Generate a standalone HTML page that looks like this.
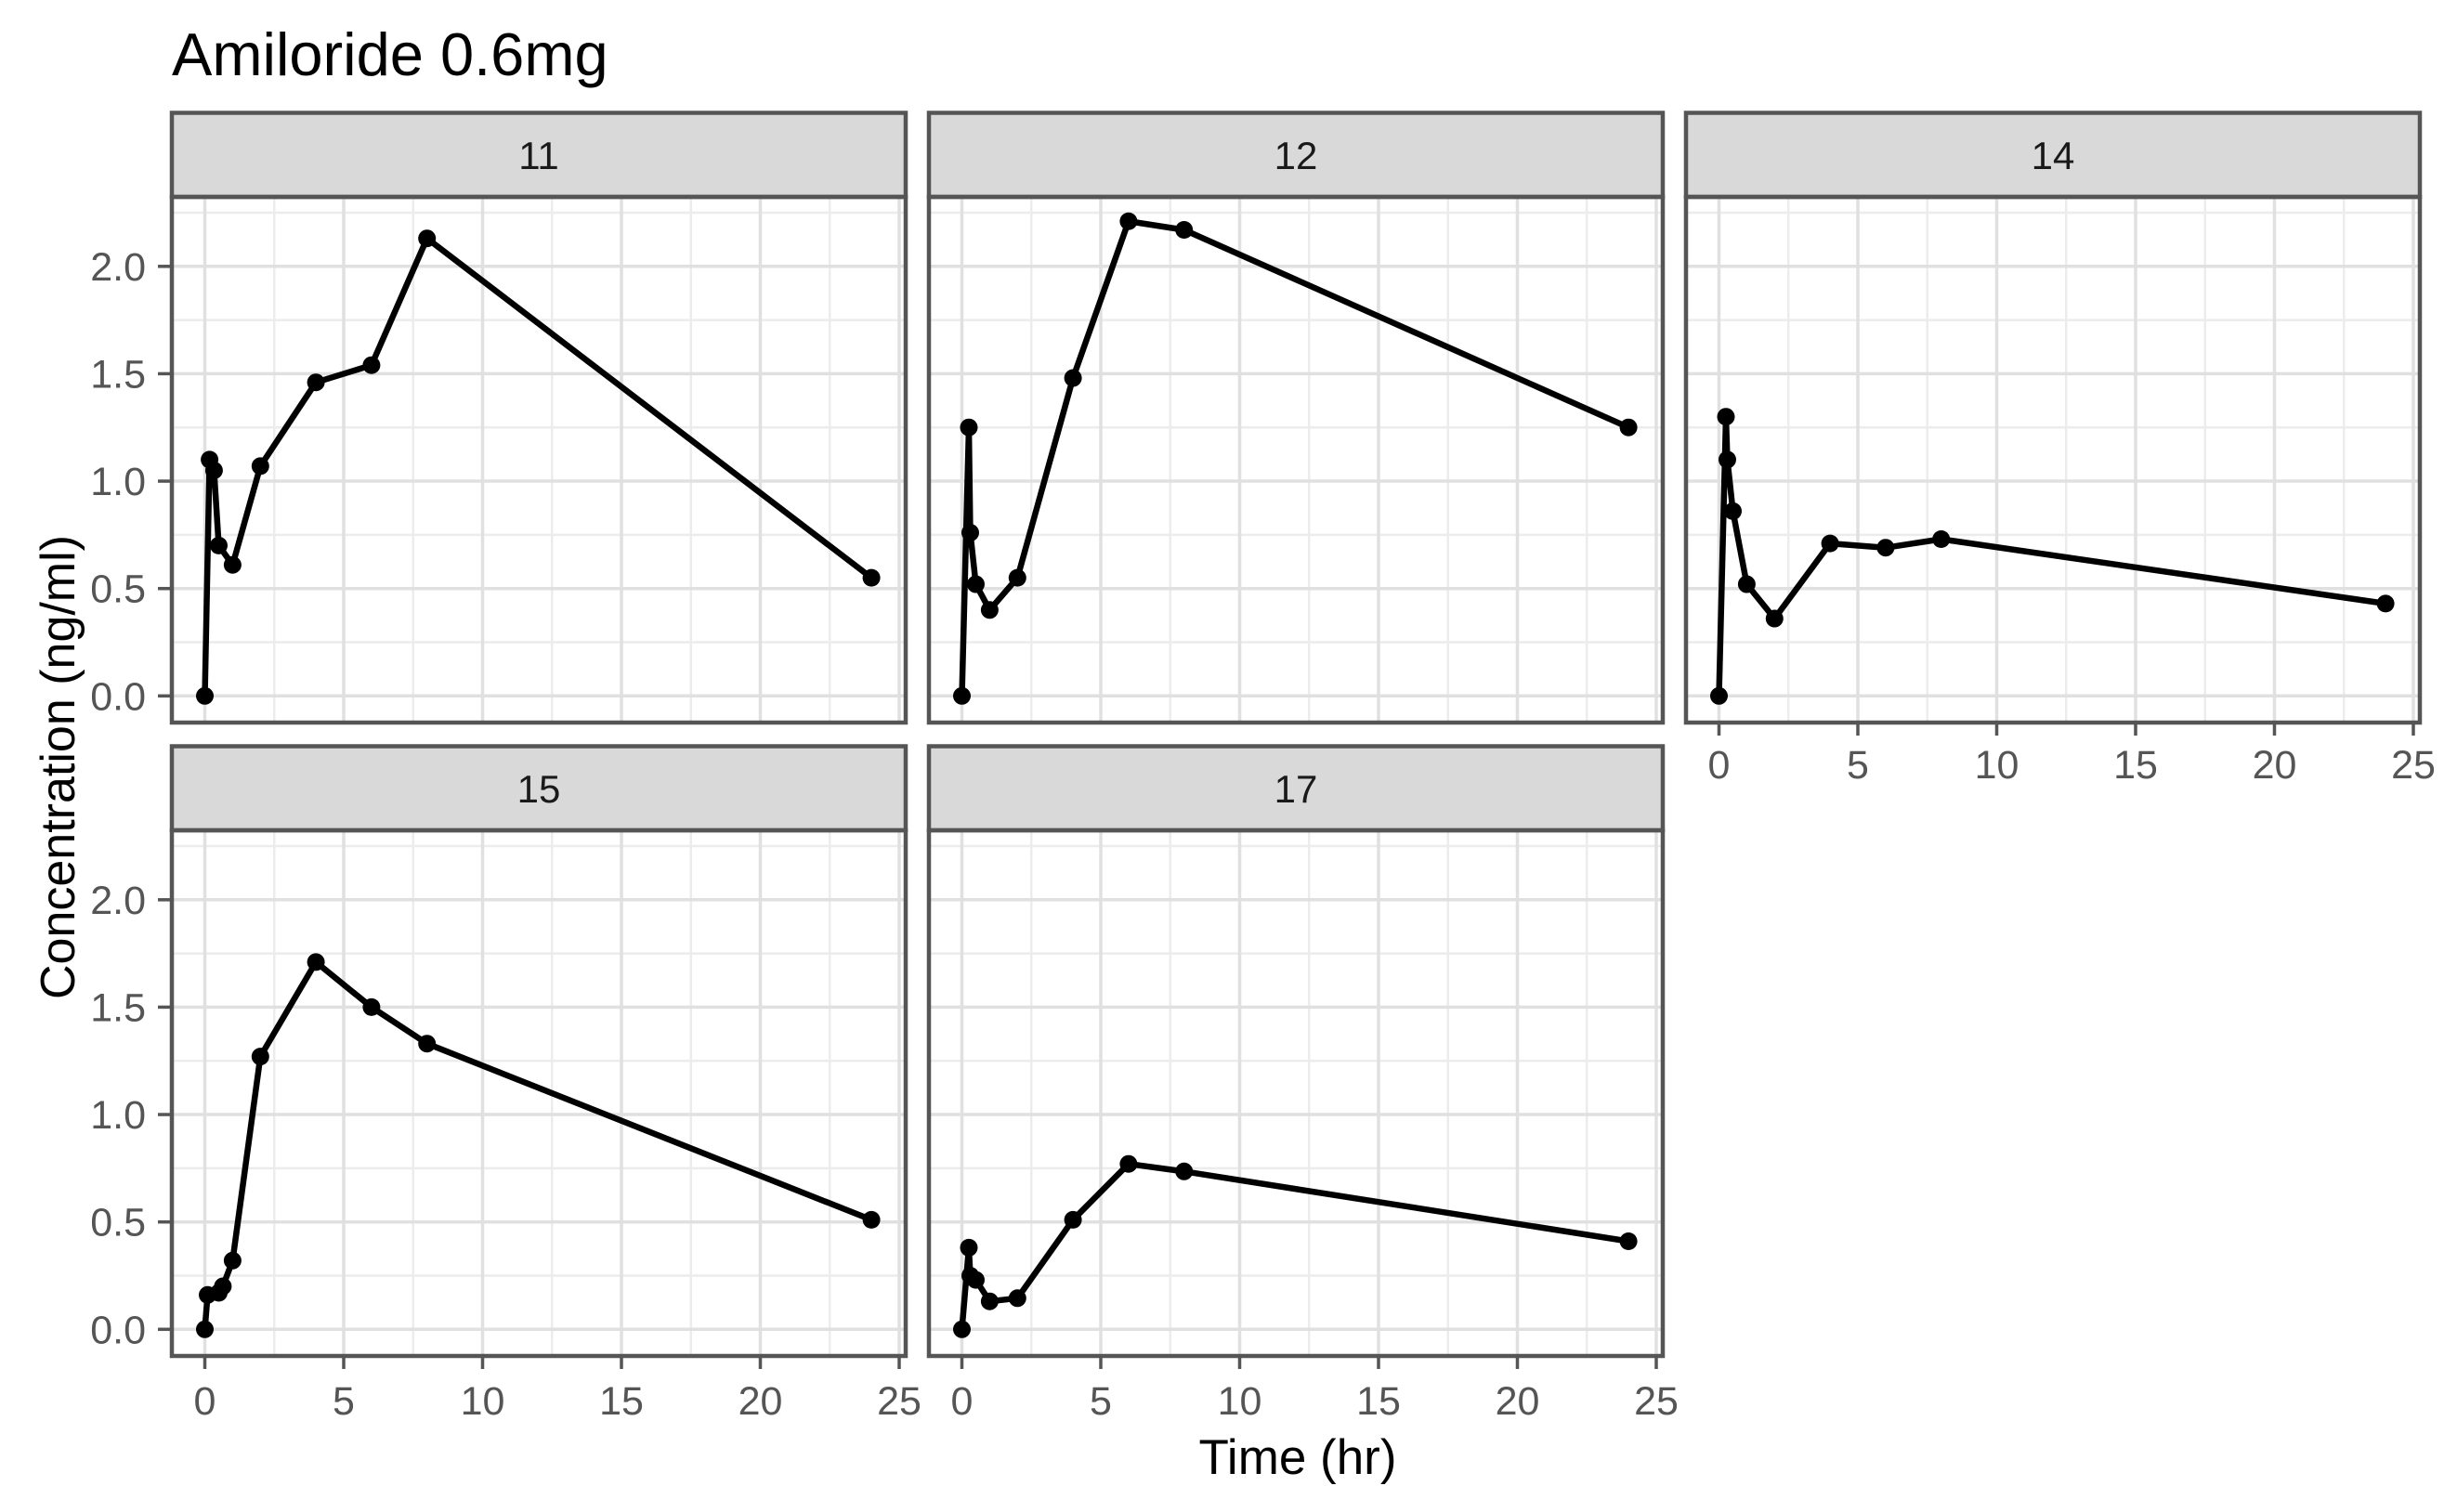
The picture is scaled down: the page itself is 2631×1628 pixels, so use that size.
<!DOCTYPE html>
<html><head><meta charset="utf-8"><style>
html,body{margin:0;padding:0;background:#fff;}
svg{display:block;}
text{font-family:"Liberation Sans",Arial,sans-serif;}
</style></head><body>
<svg width="2631" height="1628" viewBox="0 0 2631 1628" xmlns="http://www.w3.org/2000/svg">
<defs>
<g id="grid">
<rect x="0" y="0" width="790" height="566" fill="#ffffff"/>
<g stroke="#ececec" stroke-width="2.5">
<line x1="110.25" y1="0" x2="110.25" y2="566"/><line x1="259.75" y1="0" x2="259.75" y2="566"/><line x1="409.25" y1="0" x2="409.25" y2="566"/><line x1="558.75" y1="0" x2="558.75" y2="566"/><line x1="708.25" y1="0" x2="708.25" y2="566"/>
<line x1="0" y1="479.5" x2="790" y2="479.5"/><line x1="0" y1="363.9" x2="790" y2="363.9"/><line x1="0" y1="248.2" x2="790" y2="248.2"/><line x1="0" y1="132.6" x2="790" y2="132.6"/><line x1="0" y1="17" x2="790" y2="17"/>
</g>
<g stroke="#e0e0e0" stroke-width="3.5">
<line x1="35.5" y1="0" x2="35.5" y2="566"/><line x1="185" y1="0" x2="185" y2="566"/><line x1="334.5" y1="0" x2="334.5" y2="566"/><line x1="484" y1="0" x2="484" y2="566"/><line x1="633.5" y1="0" x2="633.5" y2="566"/><line x1="783" y1="0" x2="783" y2="566"/>
<line x1="0" y1="537.3" x2="790" y2="537.3"/><line x1="0" y1="421.7" x2="790" y2="421.7"/><line x1="0" y1="306.05" x2="790" y2="306.05"/><line x1="0" y1="190.4" x2="790" y2="190.4"/><line x1="0" y1="74.8" x2="790" y2="74.8"/>
</g>
</g>
<g id="frame">
<rect x="0" y="-90.5" width="790" height="90.5" fill="#d9d9d9" stroke="#555555" stroke-width="4.5"/>
<rect x="0" y="0" width="790" height="566" fill="none" stroke="#555555" stroke-width="4.5"/>
</g>
<g id="xticks" stroke="#555555" stroke-width="3.5">
<line x1="35.5" y1="566" x2="35.5" y2="580"/><line x1="185" y1="566" x2="185" y2="580"/><line x1="334.5" y1="566" x2="334.5" y2="580"/><line x1="484" y1="566" x2="484" y2="580"/><line x1="633.5" y1="566" x2="633.5" y2="580"/><line x1="783" y1="566" x2="783" y2="580"/>
</g>
<g id="yticks" stroke="#555555" stroke-width="3.5">
<line x1="-15" y1="537.3" x2="0" y2="537.3"/><line x1="-15" y1="421.7" x2="0" y2="421.7"/><line x1="-15" y1="306.05" x2="0" y2="306.05"/><line x1="-15" y1="190.4" x2="0" y2="190.4"/><line x1="-15" y1="74.8" x2="0" y2="74.8"/>
</g>
</defs>

<!-- Title -->
<text x="185" y="81" font-size="65" fill="#000">Amiloride 0.6mg</text>

<!-- Panel 11 -->
<g transform="translate(185,212)">
<use href="#grid"/>
<polyline fill="none" stroke="#000" stroke-width="6.5" stroke-linejoin="round" stroke-linecap="round" points="35.5,537.3 40.6,282.9 45.4,294.5 50.5,375.4 65.4,396.2 95.3,289.9 155.1,199.7 214.9,181.2 274.7,44.7 753.1,410.1"/>
<g fill="#000"><circle cx="35.5" cy="537.3" r="9.5"/><circle cx="40.6" cy="282.9" r="9.5"/><circle cx="45.4" cy="294.5" r="9.5"/><circle cx="50.5" cy="375.4" r="9.5"/><circle cx="65.4" cy="396.2" r="9.5"/><circle cx="95.3" cy="289.9" r="9.5"/><circle cx="155.1" cy="199.7" r="9.5"/><circle cx="214.9" cy="181.2" r="9.5"/><circle cx="274.7" cy="44.7" r="9.5"/><circle cx="753.1" cy="410.1" r="9.5"/></g>
<use href="#frame"/>
<use href="#yticks"/>
<text x="395" y="-30" font-size="42" fill="#1a1a1a" text-anchor="middle">11</text>
</g>

<!-- Panel 12 -->
<g transform="translate(1000,212)">
<use href="#grid"/>
<polyline fill="none" stroke="#000" stroke-width="6.5" stroke-linejoin="round" stroke-linecap="round" points="35.5,537.3 43,248.2 44.5,361.55 50.5,417.05 65.4,444.8 95.3,410.1 155.1,195.05 214.9,26.24 274.7,35.5 753.1,248.2"/>
<g fill="#000"><circle cx="35.5" cy="537.3" r="9.5"/><circle cx="43" cy="248.2" r="9.5"/><circle cx="44.5" cy="361.55" r="9.5"/><circle cx="50.5" cy="417.05" r="9.5"/><circle cx="65.4" cy="444.8" r="9.5"/><circle cx="95.3" cy="410.1" r="9.5"/><circle cx="155.1" cy="195.05" r="9.5"/><circle cx="214.9" cy="26.24" r="9.5"/><circle cx="274.7" cy="35.5" r="9.5"/><circle cx="753.1" cy="248.2" r="9.5"/></g>
<use href="#frame"/>
<text x="395" y="-30" font-size="42" fill="#1a1a1a" text-anchor="middle">12</text>
</g>

<!-- Panel 14 -->
<g transform="translate(1815,212)">
<use href="#grid"/>
<polyline fill="none" stroke="#000" stroke-width="6.5" stroke-linejoin="round" stroke-linecap="round" points="35.5,537.3 43,236.7 44.5,282.9 50.5,338.4 65.4,417.05 95.3,454.05 155.1,373.1 214.9,377.7 274.7,368.5 753.1,437.9"/>
<g fill="#000"><circle cx="35.5" cy="537.3" r="9.5"/><circle cx="43" cy="236.7" r="9.5"/><circle cx="44.5" cy="282.9" r="9.5"/><circle cx="50.5" cy="338.4" r="9.5"/><circle cx="65.4" cy="417.05" r="9.5"/><circle cx="95.3" cy="454.05" r="9.5"/><circle cx="155.1" cy="373.1" r="9.5"/><circle cx="214.9" cy="377.7" r="9.5"/><circle cx="274.7" cy="368.5" r="9.5"/><circle cx="753.1" cy="437.9" r="9.5"/></g>
<use href="#frame"/>
<use href="#xticks"/>
<text x="395" y="-30" font-size="42" fill="#1a1a1a" text-anchor="middle">14</text>
<g font-size="43" fill="#555555" text-anchor="middle">
<text x="35.5" y="626">0</text><text x="185" y="626">5</text><text x="334.5" y="626">10</text><text x="484" y="626">15</text><text x="633.5" y="626">20</text><text x="783" y="626">25</text>
</g>
</g>

<!-- Panel 15 -->
<g transform="translate(185,894)">
<use href="#grid"/>
<polyline fill="none" stroke="#000" stroke-width="6.5" stroke-linejoin="round" stroke-linecap="round" points="35.5,537.3 38.5,500.3 50.5,498 54.9,491.05 65.4,463.3 95.3,243.6 155.1,141.9 214.9,190.4 274.7,229.7 753.1,419.4"/>
<g fill="#000"><circle cx="35.5" cy="537.3" r="9.5"/><circle cx="38.5" cy="500.3" r="9.5"/><circle cx="50.5" cy="498" r="9.5"/><circle cx="54.9" cy="491.05" r="9.5"/><circle cx="65.4" cy="463.3" r="9.5"/><circle cx="95.3" cy="243.6" r="9.5"/><circle cx="155.1" cy="141.9" r="9.5"/><circle cx="214.9" cy="190.4" r="9.5"/><circle cx="274.7" cy="229.7" r="9.5"/><circle cx="753.1" cy="419.4" r="9.5"/></g>
<use href="#frame"/>
<use href="#xticks"/>
<use href="#yticks"/>
<text x="395" y="-30" font-size="42" fill="#1a1a1a" text-anchor="middle">15</text>
<g font-size="43" fill="#555555" text-anchor="middle">
<text x="35.5" y="629">0</text><text x="185" y="629">5</text><text x="334.5" y="629">10</text><text x="484" y="629">15</text><text x="633.5" y="629">20</text><text x="783" y="629">25</text>
</g>
</g>

<!-- Panel 17 -->
<g transform="translate(1000,894)">
<use href="#grid"/>
<polyline fill="none" stroke="#000" stroke-width="6.5" stroke-linejoin="round" stroke-linecap="round" points="35.5,537.3 43,449.4 44.5,479.5 50.5,484.1 65.4,507.2 95.3,503.8 155.1,419.4 214.9,359.2 274.7,367.3 753.1,442.5"/>
<g fill="#000"><circle cx="35.5" cy="537.3" r="9.5"/><circle cx="43" cy="449.4" r="9.5"/><circle cx="44.5" cy="479.5" r="9.5"/><circle cx="50.5" cy="484.1" r="9.5"/><circle cx="65.4" cy="507.2" r="9.5"/><circle cx="95.3" cy="503.8" r="9.5"/><circle cx="155.1" cy="419.4" r="9.5"/><circle cx="214.9" cy="359.2" r="9.5"/><circle cx="274.7" cy="367.3" r="9.5"/><circle cx="753.1" cy="442.5" r="9.5"/></g>
<use href="#frame"/>
<use href="#xticks"/>
<text x="395" y="-30" font-size="42" fill="#1a1a1a" text-anchor="middle">17</text>
<g font-size="43" fill="#555555" text-anchor="middle">
<text x="35.5" y="629">0</text><text x="185" y="629">5</text><text x="334.5" y="629">10</text><text x="484" y="629">15</text><text x="633.5" y="629">20</text><text x="783" y="629">25</text>
</g>
</g>

<!-- Y tick labels -->
<g font-size="43" fill="#555555" text-anchor="end">
<text x="157" y="764.3">0.0</text><text x="157" y="648.7">0.5</text><text x="157" y="533">1.0</text><text x="157" y="417.4">1.5</text><text x="157" y="301.8">2.0</text>
<text x="157" y="1446.3">0.0</text><text x="157" y="1330.7">0.5</text><text x="157" y="1215">1.0</text><text x="157" y="1099.4">1.5</text><text x="157" y="983.8">2.0</text>
</g>

<!-- Axis titles -->
<text x="1397" y="1587" font-size="53" fill="#000" text-anchor="middle">Time (hr)</text>
<text transform="translate(80,826) rotate(-90)" x="0" y="0" font-size="52" fill="#000" text-anchor="middle">Concentration (ng/ml)</text>
</svg>
</body></html>
